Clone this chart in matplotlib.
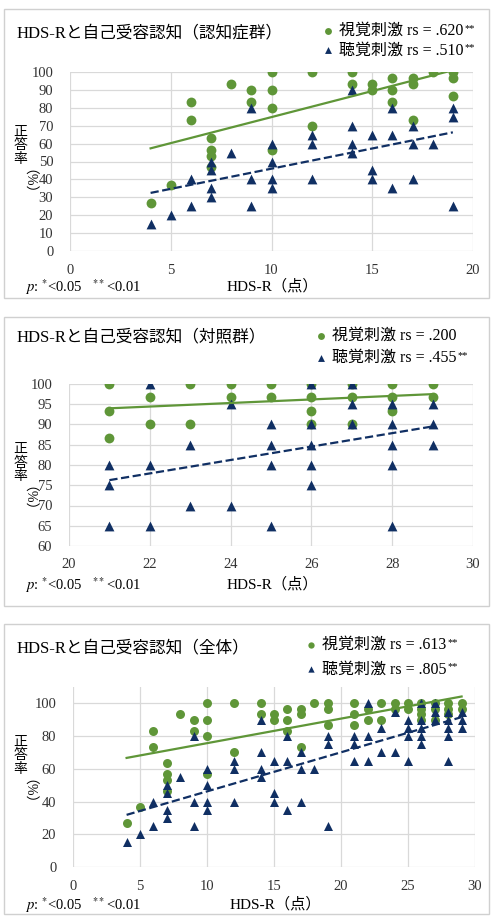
import numpy as np
import matplotlib
matplotlib.use("Agg")
from matplotlib import pyplot as plt
from matplotlib.patches import Rectangle

plt.rcParams['font.family'] = ['Liberation Serif', 'Noto Sans CJK JP']
plt.rcParams['mathtext.fontset'] = 'stix'

GREEN = '#5f9638'
NAVY = '#102f63'
GRID = '#d9d9d9'

# 認知症群
dem_vis_x = [4, 5, 6, 6, 7, 7, 7, 7, 8, 9, 9, 10, 10, 10, 10, 12, 12, 14, 14, 15, 15,
             16, 16, 16, 17, 17, 17, 18, 19, 19, 19]
dem_vis_y = [26.7, 36.7, 83.3, 73.3, 63.3, 56.7, 53.3, 46.7, 93.3, 90, 83.3, 100, 90, 80, 56.7,
             100, 70, 100, 93.3, 93.3, 90, 96.7, 90, 83.3, 96.7, 93.3, 73.3, 100, 100, 96.7, 86.7]
dem_aud_x = [4, 5, 6, 6, 7, 7, 7, 7, 8, 9, 9, 9, 10, 10, 10, 10, 12, 12, 12, 14, 14, 14, 14,
             15, 15, 15, 16, 16, 16, 17, 17, 17, 18, 19, 19, 19]
dem_aud_y = [15, 20, 40, 25, 50, 45, 35, 30, 55, 80, 40, 25, 60, 50, 40, 35, 65, 60, 40, 90, 70, 60, 55,
             65, 45, 40, 80, 65, 35, 70, 60, 40, 60, 80, 75, 25]

# 対照群
con_vis_x = [21, 21, 21, 22, 22, 23, 23, 24, 24, 25, 25, 26, 26, 26, 26, 27, 27, 27, 28, 28, 28, 29, 29]
con_vis_y = [100, 93.3, 86.7, 96.7, 90, 100, 90, 100, 96.7, 100, 96.7, 100, 96.7, 93.3, 90,
             100, 96.7, 90, 100, 96.7, 93.3, 100, 96.7]
con_aud_x = [21, 21, 21, 22, 22, 22, 23, 23, 24, 24, 25, 25, 25, 25, 26, 26, 26, 26, 26,
             27, 27, 27, 28, 28, 28, 28, 28, 29, 29, 29]
con_aud_y = [80, 75, 65, 100, 80, 65, 85, 70, 95, 70, 90, 85, 80, 65, 100, 90, 85, 80, 75,
             100, 95, 90, 95, 90, 85, 80, 65, 95, 90, 85]

titles = ['HDS-Rと自己受容認知（認知症群）', 'HDS-Rと自己受容認知（対照群）', 'HDS-Rと自己受容認知（全体）']
vis_labels = ['視覚刺激 rs = .620', '視覚刺激 rs = .200', '視覚刺激 rs = .613']
aud_labels = ['聴覚刺激 rs = .510', '聴覚刺激 rs = .455', '聴覚刺激 rs = .805']
vis_stars = ['**', '', '**']
aud_stars = ['**', '**', '**']

W, H = 495, 917
fig = plt.figure(figsize=(W / 100, H / 100), dpi=100)


def fx(px):
    return px / W


def fy(py):
    return 1 - py / H


legends = []


def panel(box, rect, title, title_y, leg_x, leg_y, leg_sp, vx, vy, axx, axy, vlab, alab, stars,
          xlim, xticks, ylim, yticks, ylab_y, xlab_y, ms):
    fig.add_artist(Rectangle((fx(box[0]), fy(box[3])), fx(box[2] - box[0]), (box[3] - box[1]) / H,
                             transform=fig.transFigure, fill=False, edgecolor='#d0d0d0', lw=1))
    l, t, r, b = rect
    ax = fig.add_axes([fx(l), fy(b), fx(r - l), (b - t) / H])
    ax.set_xlim(xlim)
    ax.set_ylim(ylim)
    ax.set_xticks(xticks)
    ax.set_yticks(yticks)
    ax.grid(True, color=GRID, lw=0.9)
    ax.set_axisbelow(True)
    for s in ax.spines.values():
        s.set_visible(False)
    ax.tick_params(length=0, labelsize=10.5, colors='#333333')
    ax.tick_params(axis='y', pad=12)
    ax.tick_params(axis='x', pad=9)

    sv = ax.scatter(vx, vy, s=ms, color=GREEN, marker='o', zorder=3, linewidths=0)
    sa = ax.scatter(axx, axy, s=ms, color=NAVY, marker='^', zorder=4, linewidths=0)

    # 線形近似
    for xs, ys, c, ls in [(vx, vy, GREEN, '-'), (axx, axy, NAVY, '--')]:
        k, c0 = np.polyfit(xs, ys, 1)
        xx = np.array([min(xs), max(xs)])
        ax.plot(xx, k * xx + c0, color=c, ls=ls, lw=1.6, zorder=5)

    fig.text(fx(box[0] + 13), fy(title_y), title, fontsize=12, va='center', ha='left')
    leg = ax.legend([sv, sa], [vlab, alab], loc='upper left', bbox_to_anchor=(fx(leg_x), fy(leg_y)),
                    bbox_transform=fig.transFigure, frameon=False, fontsize=11.5, handletextpad=0.2,
                    labelspacing=leg_sp, borderpad=0, borderaxespad=0, handlelength=1.0, markerscale=0.7)
    legends.append((leg, stars))

    fig.text(fx(20), fy(ylab_y), '正\n答\n率', fontsize=10, ha='center', va='bottom', linespacing=1.05)
    fig.text(fx(20), fy(ylab_y + 3), '（%）', fontsize=10, ha='center', va='top', rotation=270)
    fig.text(fx((l + r) / 2 + 1), fy(xlab_y), 'HDS-R（点）', fontsize=11, ha='center', va='center')
    fig.text(fx(25), fy(xlab_y + 1), r'$p$: $^{*}$<0.05   $^{**}$<0.01', fontsize=10.5, ha='left', va='center')
    return ax


panel((4, 9, 489, 298), (70, 72, 473, 251), titles[0], 33, 320, 23, 0.22,
      dem_vis_x, dem_vis_y, dem_aud_x, dem_aud_y, vis_labels[0], aud_labels[0], (vis_stars[0], aud_stars[0]),
      (0, 20), [0, 5, 10, 15, 20], (0, 100), np.arange(0, 101, 10), 166, 286, 50)

panel((4, 317, 489, 606), (69, 384, 473, 546), titles[1], 338, 313, 328, 0.38,
      con_vis_x, con_vis_y, con_aud_x, con_aud_y, vis_labels[1], aud_labels[1], (vis_stars[1], aud_stars[1]),
      (20, 30), [20, 22, 24, 26, 28, 30], (60, 100), np.arange(60, 101, 5), 483, 584, 50)

panel((4, 624, 489, 914), (73, 687, 475, 867), titles[2], 648, 303, 637, 0.52,
      dem_vis_x + con_vis_x, dem_vis_y + con_vis_y, dem_aud_x + con_aud_x, dem_aud_y + con_aud_y,
      vis_labels[2], aud_labels[2], (vis_stars[2], aud_stars[2]),
      (0, 30), [0, 5, 10, 15, 20, 25, 30], (0, 110), np.arange(0, 101, 20), 776, 904, 42)

# 有意記号を凡例の右肩に付ける
fig.canvas.draw()
rend = fig.canvas.get_renderer()
for leg, stars in legends:
    for t, st in zip(leg.get_texts(), stars):
        if st:
            bb = t.get_window_extent(rend)
            fig.text((bb.x1 + 1) / W, (bb.y1 - 1) / H, st, fontsize=7.5, ha='left', va='top')

plt.savefig('out.png', dpi=100)
